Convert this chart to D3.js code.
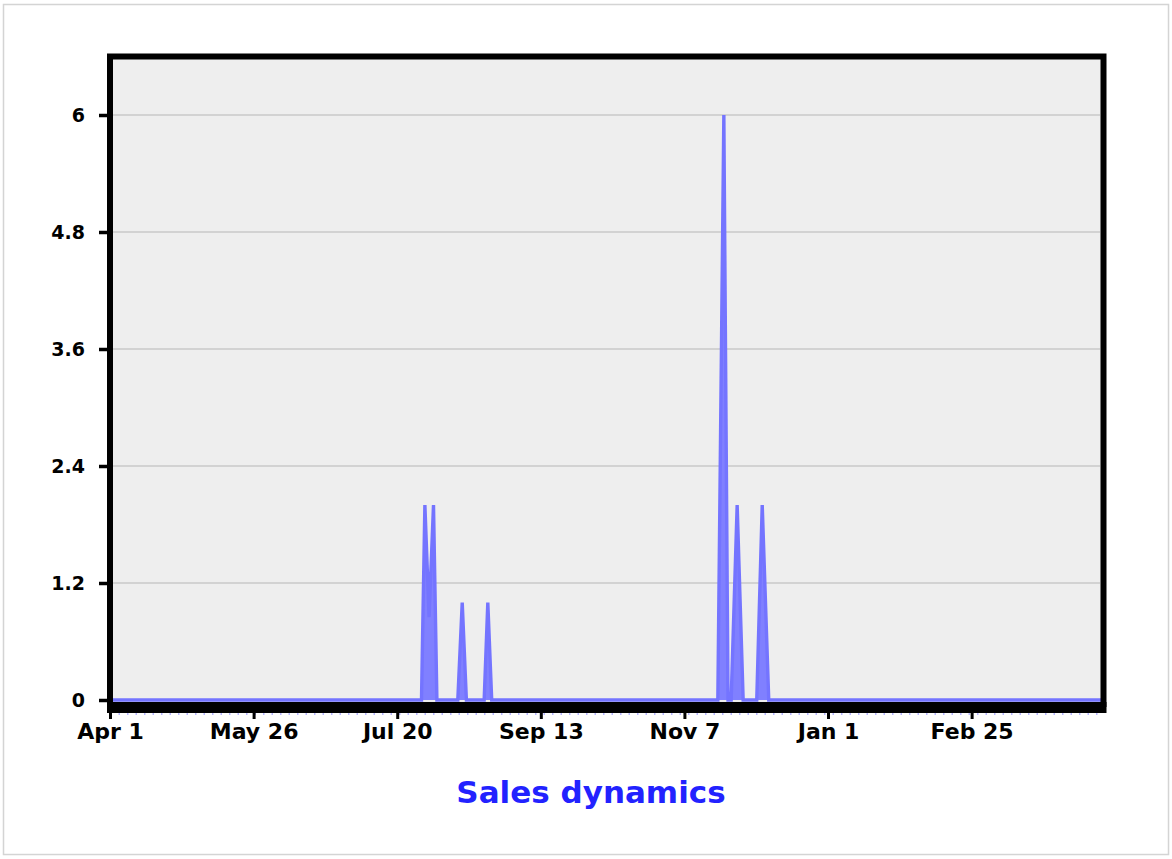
<!DOCTYPE html>
<html>
<head>
<meta charset="utf-8">
<script src="https://cdn.jsdelivr.net/npm/d3@7"></script>
<style>
  html, body { margin: 0; padding: 0; background: #ffffff; }
  svg { display: block; }
</style>
</head>
<body>
<svg id="chart" width="1172" height="859"></svg>
<script>
// ---- data (day offset from Apr 1, sales value) ----
const dayIndex = [0, 119.3, 120.6, 122.2, 123.9, 125.2, 133.2, 134.9, 136.5, 143.3, 144.7, 146.2,
                  232.8, 235.1, 236.7, 237.9, 240.2, 242.5, 247.7, 249.8, 252.3, 380.7];
const sales    = [0, 0, 2, 0.85, 2, 0, 0, 1, 0, 0, 1, 0,
                  0, 6, 0, 0, 2, 0, 0, 2, 0, 0];
const xTickDays   = [0, 55, 110, 165, 220, 275, 330];
const xTickLabels = ["Apr 1", "May 26", "Jul 20", "Sep 13", "Nov 7", "Jan 1", "Feb 25"];
const yTickValues = [0, 1.2, 2.4, 3.6, 4.8, 6];
const yTickLabels = ["0", "1.2", "2.4", "3.6", "4.8", "6"];
const chartTitle = "Sales dynamics";

const svg = d3.select("#chart");
const W = 1172, H = 859;

// outer light border
svg.append("rect").attr("x", 3.5).attr("y", 4.5).attr("width", W - 7).attr("height", H - 9)
  .attr("fill", "#ffffff").attr("stroke", "#d4d4d4").attr("stroke-width", 1.5);

const x = d3.scaleLinear().domain([0, 380.7]).range([110, 1104]);
const y = d3.scaleLinear().domain([0, 6.6]).range([700, 56.5]);

// plot background
svg.append("rect").attr("x", 110).attr("y", 56.5).attr("width", 1103.5 - 110).attr("height", 707 - 56.5)
  .attr("fill", "#eeeeee");

// grid lines
svg.append("g").selectAll("line").data(yTickValues.filter(v => v > 0)).join("line")
  .attr("x1", 113).attr("x2", 1100)
  .attr("y1", d => y(d)).attr("y2", d => y(d))
  .attr("stroke", "#c8c8c8").attr("stroke-width", 1.5);

// area series
const pts = dayIndex.map((d, i) => ({ d, v: sales[i] }));
const area = d3.area().x(p => x(p.d)).y0(y(0)).y1(p => y(p.v));
const line = d3.line().x(p => x(p.d)).y(p => y(p.v));
svg.append("path").datum(pts).attr("d", area).attr("fill", "#8080ff");
svg.append("path").datum(pts).attr("d", line).attr("fill", "none")
  .attr("stroke", "#7474ff").attr("stroke-width", 3.4).attr("stroke-linejoin", "miter")
  .attr("stroke-miterlimit", 3);

// dotted blue underline below axis band
svg.append("line").attr("x1", x(0)).attr("x2", x(380.7)).attr("y1", 714).attr("y2", 714)
  .attr("stroke", "#7070ff").attr("stroke-width", 1).attr("stroke-dasharray", "1.5,7");

// frame
svg.append("path")
  .attr("d", `M110,707 L110,56.5 L1103.5,56.5 L1103.5,707`)
  .attr("fill", "none").attr("stroke", "#000").attr("stroke-width", 6).attr("stroke-linejoin", "miter");
svg.append("line").attr("x1", 107).attr("x2", 1106.5).attr("y1", 707.5).attr("y2", 707.5)
  .attr("stroke", "#000").attr("stroke-width", 11);

// x axis
const xAxis = d3.axisBottom(x).tickValues(xTickDays).tickSize(7).tickPadding(4)
  .tickFormat((d, i) => xTickLabels[i]);
const gx = svg.append("g").attr("transform", "translate(0,712)").call(xAxis);
gx.select(".domain").remove();
gx.selectAll(".tick line").attr("stroke", "#000").attr("stroke-width", 3);
gx.selectAll(".tick text").attr("fill", "#000")
  .style("font-family", "'DejaVu Sans', Verdana, sans-serif").style("font-weight", "bold").style("font-size", "22px");

// y axis
const yAxis = d3.axisLeft(y).tickValues(yTickValues).tickSize(8).tickPadding(14)
  .tickFormat((d, i) => yTickLabels[i]);
const gy = svg.append("g").attr("transform", "translate(107,0)").call(yAxis);
gy.select(".domain").remove();
gy.selectAll(".tick line").attr("stroke", "#000").attr("stroke-width", 3.5);
gy.selectAll(".tick text").attr("fill", "#000")
  .style("font-family", "'DejaVu Sans', Verdana, sans-serif").style("font-weight", "bold").style("font-size", "19px");

// title
svg.append("text").attr("x", 591).attr("y", 803).attr("text-anchor", "middle")
  .attr("fill", "#2222ff")
  .style("font-family", "'DejaVu Sans', Verdana, sans-serif").style("font-weight", "bold").style("font-size", "31px")
  .text(chartTitle);
</script>
</body>
</html>
